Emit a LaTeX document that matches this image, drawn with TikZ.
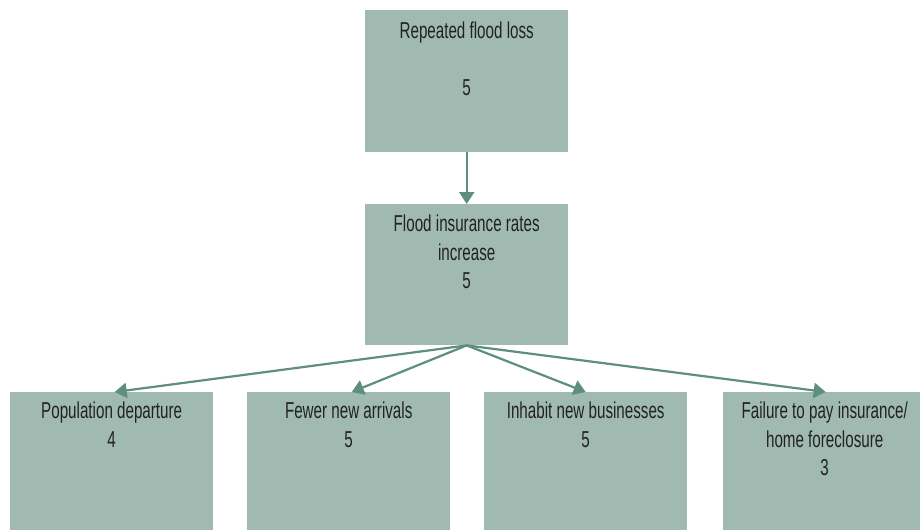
\documentclass[tikz,border=0pt]{standalone}
\usepackage{fontspec}
\setmainfont{Liberation Sans}[FakeStretch=0.66]
\usetikzlibrary{arrows.meta}
\definecolor{boxfill}{HTML}{A0BAB1}
\definecolor{arrowc}{HTML}{5E8E7C}
\definecolor{txt}{HTML}{222222}
\begin{document}
\begin{tikzpicture}[x=1pt,y=1pt,
  box/.style={rectangle,fill=boxfill,draw=none,inner sep=0,minimum width=203pt,minimum height=#1,anchor=north west},
  box/.default=138pt,
  lbl/.style={anchor=north,align=center,inner sep=0,text=txt,font=\fontsize{23pt}{28.5pt}\selectfont},
  conn/.style={draw=arrowc,line width=2.2pt,-{Triangle[width=15pt,length=12pt]}}]
\clip (0,0) rectangle (920,-530);
\node[box=142pt] (top) at (365,-10) {};
\node[box=141pt] (mid) at (365,-204) {};
\node[box] (b1) at (10,-392) {};
\node[box] (b2) at (247,-392) {};
\node[box] (b3) at (484,-392) {};
\node[box] (b4) at (723,-392) {};
\node[lbl] (tt) at ([yshift=-12pt]top.north) {Repeated flood loss\\[28.5pt]5};
\node[lbl] (mt) at ([yshift=-11pt]mid.north) {Flood insurance rates\\increase\\5};
\node[lbl] (t1) at ([yshift=-10pt]b1.north) {Population departure\\4};
\node[lbl] (t2) at ([yshift=-10pt]b2.north) {Fewer new arrivals\\5};
\node[lbl] (t3) at ([yshift=-10pt]b3.north) {Inhabit new businesses\\5};
\node[lbl] (t4) at ([yshift=-10pt]b4.north) {Failure to pay insurance/\\home foreclosure\\3};
\draw[conn] (top.south) -- (mid.north);
\draw[conn] (mid.south) -- ([xshift=3pt]b1.north);
\draw[conn] (mid.south) -- ([xshift=3pt]b2.north);
\draw[conn] (mid.south) -- (b3.north);
\draw[conn] (mid.south) -- ([xshift=1pt]b4.north);
\end{tikzpicture}
\end{document}
